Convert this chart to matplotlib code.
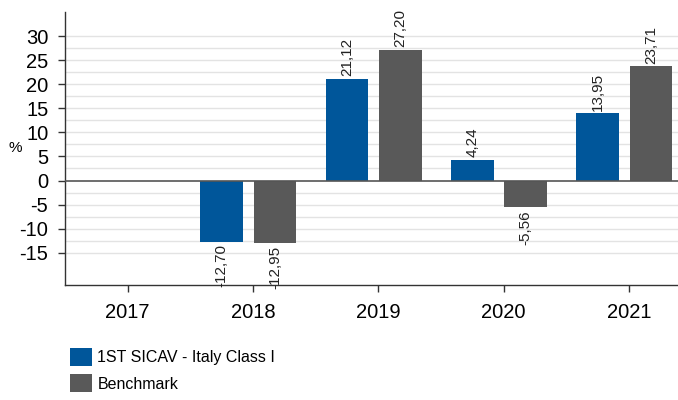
import matplotlib
matplotlib.use("Agg")
import matplotlib.pyplot as plt
from matplotlib.patches import Patch
import numpy as np

plt.rcParams['font.family'] = ['Liberation Sans', 'DejaVu Sans']

years = ["2017", "2018", "2019", "2020", "2021"]
fund = [None, -12.70, 21.12, 4.24, 13.95]
bench = [None, -12.95, 27.20, -5.56, 23.71]
series_names = ["1ST SICAV - Italy Class I", "Benchmark"]
colors = ["#00569a", "#595959"]

fig = plt.figure(figsize=(6.78, 4.0), dpi=100)
ax = fig.add_axes([65/678, 1-285/400, (691.75-65)/678, (285-12)/400])

x = np.arange(len(years))
offsets = [-0.25, 0.175]
width = 0.34

for vals, off, col in zip([fund, bench], offsets, colors):
    for xi, v in zip(x, vals):
        if v is None:
            continue
        ax.bar(xi + off, v, width=width, color=col, zorder=3)
        lab = f"{v:.2f}".replace(".", ",")
        if v >= 0:
            ax.annotate(lab, (xi + off, v), xytext=(0, 2), textcoords="offset points",
                        rotation=90, ha="center", va="bottom", fontsize=11, color="#222222")
        else:
            ax.annotate(lab, (xi + off, v), xytext=(0, -2), textcoords="offset points",
                        rotation=90, ha="center", va="top", fontsize=11, color="#222222")

for g in np.arange(-15, 30.01, 2.5):
    if abs(g) < 1e-9:
        continue
    ax.axhline(g, color="#e3e3e3", lw=1.0, zorder=1)
ax.axhline(0, color="#555555", lw=1.2, zorder=4)

ax.set_xlim(-0.5, 4.5)
ax.set_ylim(-21.7, 35)
ax.set_yticks(np.arange(-15, 31, 5))
ax.set_yticklabels([str(int(t)) for t in np.arange(-15, 31, 5)], fontsize=14.5)
ax.set_xticks(x)
ax.set_xticklabels(years, fontsize=14.5)
ax.tick_params(axis="both", direction="out", length=5, width=1, color="#333333")
ax.tick_params(axis="x", pad=8)
ax.tick_params(axis="y", pad=7)
for s in ["top", "right"]:
    ax.spines[s].set_visible(False)
for s in ["left", "bottom"]:
    ax.spines[s].set_color("#333333")
    ax.spines[s].set_linewidth(1)

fig.text(15/678, 1-148/400, "%", fontsize=11, ha="center", va="center")

handles = [Patch(facecolor=c, edgecolor="none") for c in colors]
fig.legend(handles, series_names, loc="upper left", bbox_to_anchor=(70/678, 1-348/400),
           frameon=False, fontsize=11.5, handlelength=1.38, handleheight=1.38,
           handletextpad=0.33, labelspacing=0.5, borderpad=0, borderaxespad=0)

fig.savefig("out.png", dpi=100)
